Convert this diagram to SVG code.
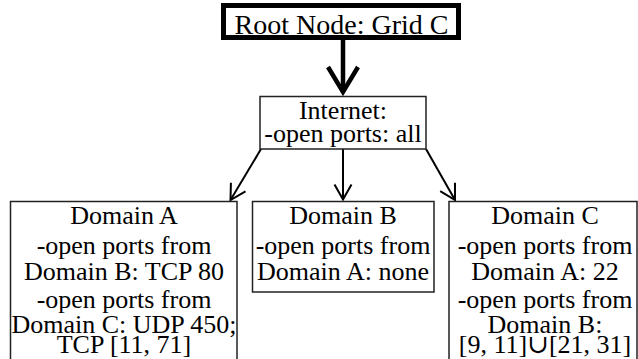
<svg xmlns="http://www.w3.org/2000/svg" width="638" height="359" viewBox="0 0 638 359">
<defs>
<style>
text{font-family:'Liberation Serif','Times New Roman','DejaVu Serif',serif;fill:#000;text-anchor:middle}
.box{fill:#fff;stroke:#222;stroke-width:1.5}
.root{fill:#fff;stroke:#000;stroke-width:5}
.t26{font-size:26px}
.t28{font-size:28px}
.con{fill:none;stroke:#000}
</style>
<marker id="thick" markerUnits="userSpaceOnUse" orient="auto" refX="0" refY="0" markerWidth="40" markerHeight="40" viewBox="-30 -20 40 40" overflow="visible">
<path d="M -25 -15 L 0 0 L -25 15" fill="none" stroke="#000" stroke-width="4.5"/>
</marker>
<marker id="thin" markerUnits="userSpaceOnUse" orient="auto" refX="0" refY="0" markerWidth="30" markerHeight="30" viewBox="-20 -15 30 30" overflow="visible">
<path d="M -15 -8.5 L 0 0 L -15 8.5" fill="none" stroke="#000" stroke-width="2"/>
</marker>
</defs>
<rect width="638" height="359" fill="#fff"/>
<g id="connectors">
<line class="con" x1="343" y1="39" x2="343" y2="92" stroke-width="4.5" marker-end="url(#thick)"/>
<line class="con" x1="261" y1="149" x2="230.5" y2="200" stroke-width="2" marker-end="url(#thin)"/>
<line class="con" x1="343" y1="149" x2="343" y2="199.5" stroke-width="2" marker-end="url(#thin)"/>
<line class="con" x1="426" y1="149" x2="455" y2="200" stroke-width="2" marker-end="url(#thin)"/>
</g>
<g id="root">
<rect class="root" x="223.5" y="5.5" width="235" height="32"/>
<text class="t28" x="341.5" y="34" font-family="Liberation Serif, serif">Root Node: Grid C</text>
</g>
<g id="internet">
<rect class="box" x="260" y="96.5" width="166" height="52.5"/>
<text class="t26" x="343" y="119">Internet:</text>
<text class="t26" x="343" y="142">-open ports: all</text>
</g>
<g id="domainA">
<rect class="box" x="10.5" y="201.5" width="226.5" height="170"/>
<text class="t26" x="124" y="224">Domain A</text>
<text class="t26" x="124" y="254">-open ports from</text>
<text class="t26" x="124" y="280">Domain B: TCP 80</text>
<text class="t26" x="124" y="308">-open ports from</text>
<text class="t26" x="124" y="333">Domain C: UDP 450;</text>
<text class="t26" x="124" y="353">TCP [11, 71]</text>
</g>
<g id="domainB">
<rect class="box" x="252.5" y="201.5" width="181.5" height="90.5"/>
<text class="t26" x="343" y="224">Domain B</text>
<text class="t26" x="343" y="254">-open ports from</text>
<text class="t26" x="343" y="280">Domain A: none</text>
</g>
<g id="domainC">
<rect class="box" x="449" y="201.5" width="188" height="170"/>
<text class="t26" x="545" y="224">Domain C</text>
<text class="t26" x="545" y="254">-open ports from</text>
<text class="t26" x="545" y="280">Domain A: 22</text>
<text class="t26" x="545" y="308">-open ports from</text>
<text class="t26" x="545" y="333">Domain B:</text>
<text class="t26" x="545" y="353">[9, 11]∪[21, 31]</text>
</g>
</svg>
